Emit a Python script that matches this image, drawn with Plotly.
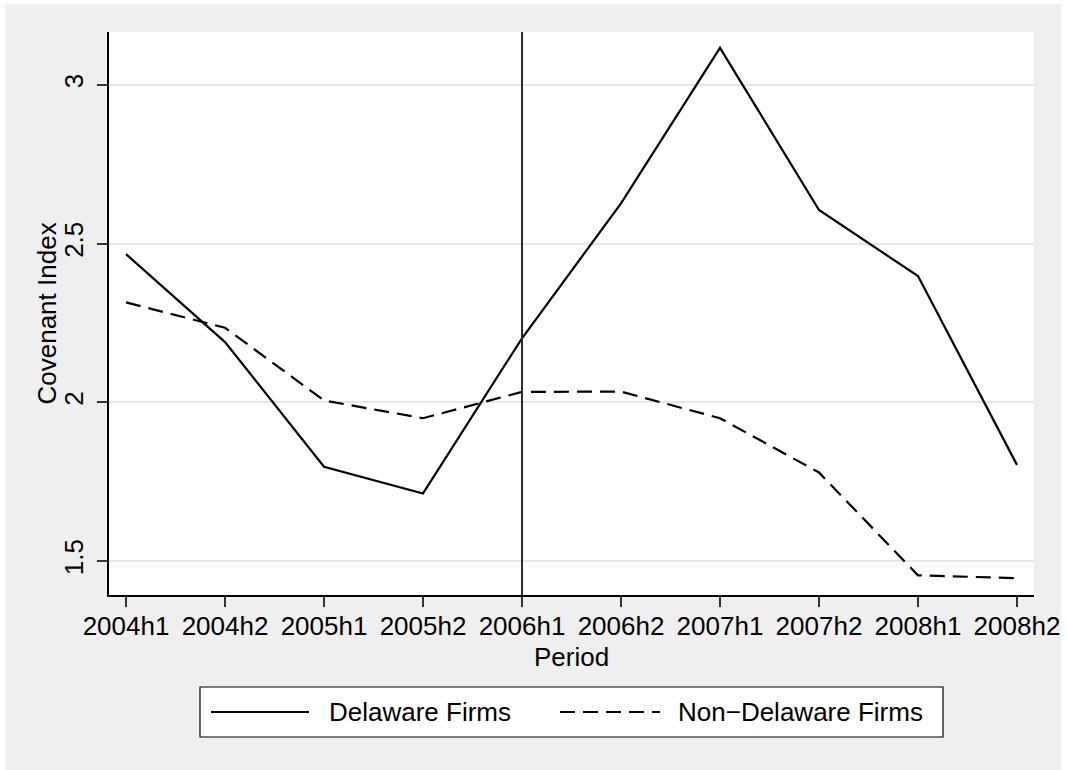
import plotly.graph_objects as go

periods = ["2004h1", "2004h2", "2005h1", "2005h2", "2006h1",
           "2006h2", "2007h1", "2007h2", "2008h1", "2008h2"]
delaware = [2.467, 2.19, 1.797, 1.713, 2.202, 2.627, 3.117, 2.606, 2.398, 1.803]
non_delaware = [2.315, 2.235, 2.006, 1.950, 2.033, 2.034, 1.950, 1.779, 1.455, 1.446]
y_ticks = [1.5, 2, 2.5, 3]
y_ticktext = ["1.5", "2", "2.5", "3"]
event_period = "2006h1"
series_names = ["Delaware Firms", "Non\u2212Delaware Firms"]
x_title = "Period"
y_title = "Covenant Index"

FONT = "Liberation Sans, Arial, Helvetica, sans-serif"
FS = 26
DASH = "15px,8px"
LW = 2.2

W, H = 1067, 770
ML, MR, MT, MB = 109, 33, 32, 175
PW, PH = W - ML - MR, H - MT - MB


def px(x):
    return (x - ML) / PW


def py(y):
    return 1 - (y - MT) / PH


fig = go.Figure()
fig.add_trace(go.Scatter(x=periods, y=delaware, mode="lines", name=series_names[0],
                         line=dict(color="black", width=LW), showlegend=False))
fig.add_trace(go.Scatter(x=periods, y=non_delaware, mode="lines", name=series_names[1],
                         line=dict(color="black", width=LW, dash=DASH), showlegend=False))

shapes = []
# outer gray background with thin white margin
shapes.append(dict(type="rect", xref="paper", yref="paper", layer="below",
                   x0=px(5), x1=px(1061), y0=py(772), y1=py(4),
                   fillcolor="#efefef", line=dict(width=0)))
# white plot region
shapes.append(dict(type="rect", xref="paper", yref="paper", layer="below",
                   x0=0, x1=1, y0=0, y1=1, fillcolor="white", line=dict(width=0)))
# vertical event line
shapes.append(dict(type="line", xref="x", yref="paper", x0=event_period, x1=event_period,
                   y0=0, y1=1, line=dict(color="#2a2a2a", width=2)))
# legend box
shapes.append(dict(type="rect", xref="paper", yref="paper",
                   x0=px(200), x1=px(943), y0=py(737), y1=py(687),
                   fillcolor="white", line=dict(color="black", width=1.2)))
ly = py(712)
shapes.append(dict(type="line", xref="paper", yref="paper", x0=px(211), x1=px(309),
                   y0=ly, y1=ly, line=dict(color="black", width=LW)))
shapes.append(dict(type="line", xref="paper", yref="paper", x0=px(560), x1=px(660),
                   y0=ly, y1=ly, line=dict(color="black", width=LW, dash=DASH)))

tfont = dict(family=FONT, size=FS, color="black")
annotations = [
    dict(xref="paper", yref="paper", x=px(327), y=ly, text=series_names[0],
         showarrow=False, xanchor="left", yanchor="middle", font=tfont),
    dict(xref="paper", yref="paper", x=px(676), y=ly, text=series_names[1],
         showarrow=False, xanchor="left", yanchor="middle", font=tfont),
    dict(xref="paper", yref="paper", x=px(46), y=0.5, text=y_title, textangle=-90,
         showarrow=False, xanchor="center", yanchor="middle", font=tfont),
    dict(xref="paper", yref="paper", x=0.5, y=py(657), text=x_title,
         showarrow=False, xanchor="center", yanchor="middle", font=tfont),
]

fig.update_layout(
    width=W, height=H, autosize=False,
    margin=dict(l=ML, r=MR, t=MT, b=MB, pad=0, autoexpand=False),
    paper_bgcolor="white", plot_bgcolor="white",
    font=tfont,
    showlegend=False,
    shapes=shapes,
    annotations=annotations,
    xaxis=dict(
        type="category", range=[-0.172, 9.172], automargin=False,
        showgrid=False, zeroline=False,
        showline=True, linecolor="black", linewidth=1.5,
        ticks="outside", ticklen=10, tickwidth=1.5, tickcolor="#333",
        ticklabelstandoff=-3,
        tickfont=tfont,
    ),
    yaxis=dict(
        range=[1.393, 3.167], automargin=False,
        tickvals=y_ticks, ticktext=y_ticktext, tickangle=-90,
        ticklabelstandoff=4,
        showgrid=True, gridcolor="#e6e6e6", gridwidth=2, zeroline=False,
        showline=True, linecolor="black", linewidth=1.5,
        ticks="outside", ticklen=10, tickwidth=1.5, tickcolor="#333",
        tickfont=tfont,
    ),
)

fig.write_html("out.html", config={"displayModeBar": False},
               post_script="document.body.style.margin='0';document.body.style.overflow='hidden';")
